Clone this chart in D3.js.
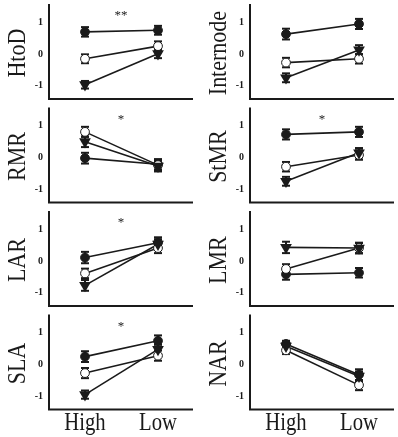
<!DOCTYPE html>
<head>
  <meta charset="utf-8" />
  <script src="https://d3js.org/d3.v7.min.js"></script>
  <style>
    body { margin: 0; background: #fff; }
    svg { filter: grayscale(100%); }
  </style>
</head>
<body>
  <script>
    // trait panels, left to right then top to bottom
    var panels = ["HtoD", "Internode", "RMR", "StMR", "LAR", "LMR", "SLA", "NAR"];
    var stars = ["**", "", "*", "*", "*", "", "*", ""];
    var levels = ["High", "Low"];
    var yTicks = [-1, 0, 1];

    // filled circle series (mean at High, Low) and its error
    var filledVals = [[0.67, 0.72], [0.6, 0.92], [-0.05, -0.24], [0.7, 0.78], [0.08, 0.55], [-0.45, -0.4], [0.22, 0.72], [0.62, -0.35]];
    var filledErr  = [[0.15, 0.14], [0.17, 0.16], [0.17, 0.16], [0.16, 0.16], [0.18, 0.17], [0.17, 0.15], [0.17, 0.17], [0.1, 0.17]];
    // open circle series
    var openVals = [[-0.18, 0.22], [-0.3, -0.18], [0.78, -0.27], [-0.32, 0.05], [-0.42, 0.38], [-0.28, 0.38], [-0.3, 0.25], [0.42, -0.68]];
    var openErr  = [[0.14, 0.15], [0.15, 0.15], [0.16, 0.17], [0.15, 0.15], [0.15, 0.16], [0.15, 0.16], [0.16, 0.16], [0.12, 0.16]];
    // filled down-triangle series
    var triVals = [[-1.0, -0.02], [-0.78, 0.1], [0.47, -0.3], [-0.78, 0.12], [-0.8, 0.5], [0.4, 0.38], [-0.98, 0.45], [0.55, -0.4]];
    var triErr  = [[0.12, 0.14], [0.14, 0.15], [0.17, 0.17], [0.14, 0.15], [0.17, 0.16], [0.18, 0.17], [0.13, 0.16], [0.12, 0.15]];

    var serif = "'Times New Roman', 'Liberation Serif', Times, serif";
    var ink = "#1a1a1a";

    var width = 398, height = 437;
    var svg = d3.select("body").append("svg")
      .attr("width", width)
      .attr("height", height)
      .attr("font-family", serif);

    var panelH = 95, rowStep = 103.5, colStep = 201;

    var y = d3.scaleLinear().domain([-1.45, 1.55]).range([panelH, 0]);
    var x = d3.scalePoint().domain(levels).range([36, 109]);
    var axisLen = 144;

    var series = [
      { vals: filledVals, err: filledErr, shape: "circle", fill: ink },
      { vals: openVals, err: openErr, shape: "circle", fill: "#fff" },
      { vals: triVals, err: triErr, shape: "tri", fill: ink }
    ];

    panels.forEach(function (name, i) {
      var col = i % 2, row = Math.floor(i / 2);
      var g = svg.append("g")
        .attr("transform", "translate(" + (49 + col * colStep) + "," + (4 + row * rowStep) + ")");

      // axes
      g.append("line").attr("x1", 0).attr("x2", 0).attr("y1", 0).attr("y2", panelH)
        .attr("stroke", ink).attr("stroke-width", 2);
      g.append("line").attr("x1", -1).attr("x2", axisLen).attr("y1", panelH).attr("y2", panelH)
        .attr("stroke", ink).attr("stroke-width", 2);

      g.selectAll(".tick").data(yTicks).join("text")
        .attr("class", "tick")
        .attr("x", -6)
        .attr("y", function (d) { return y(d) + 3.5; })
        .attr("text-anchor", "end")
        .attr("font-family", serif)
        .attr("font-size", 10)
        .attr("font-weight", "bold")
        .attr("fill", ink)
        .text(function (d) { return d; });

      // trait label
      g.append("text")
        .attr("transform", "translate(-24," + y(0) + ") rotate(-90) scale(1,1.15)")
        .attr("text-anchor", "middle")
        .attr("font-family", serif)
        .attr("font-size", 22)
        .attr("fill", ink)
        .text(name);

      if (stars[i]) {
        g.append("text")
          .attr("x", 72).attr("y", 15)
          .attr("text-anchor", "middle")
          .attr("font-family", serif)
          .attr("font-size", 13)
          .attr("fill", ink)
          .text(stars[i]);
      }

      var line = d3.line()
        .x(function (d, k) { return x(levels[k]); })
        .y(function (d) { return y(d); });

      series.forEach(function (s) {
        g.append("path").datum(s.vals[i])
          .attr("d", line)
          .attr("fill", "none")
          .attr("stroke", ink)
          .attr("stroke-width", 1.6);
      });

      series.forEach(function (s) {
        var pts = levels.map(function (lv, k) { return { lv: lv, v: s.vals[i][k], e: s.err[i][k] }; });
        var eb = g.append("g").selectAll("g").data(pts).join("g");
        eb.append("line")
          .attr("x1", function (d) { return x(d.lv); }).attr("x2", function (d) { return x(d.lv); })
          .attr("y1", function (d) { return y(d.v - d.e); }).attr("y2", function (d) { return y(d.v + d.e); })
          .attr("stroke", ink).attr("stroke-width", 2);
        [-1, 1].forEach(function (sgn) {
          eb.append("line")
            .attr("x1", function (d) { return x(d.lv) - 4; }).attr("x2", function (d) { return x(d.lv) + 4; })
            .attr("y1", function (d) { return y(d.v + sgn * d.e); }).attr("y2", function (d) { return y(d.v + sgn * d.e); })
            .attr("stroke", ink).attr("stroke-width", 2);
        });
      });

      series.forEach(function (s) {
        var pts = levels.map(function (lv, k) { return { lv: lv, v: s.vals[i][k] }; });
        if (s.shape === "circle") {
          g.append("g").selectAll("circle").data(pts).join("circle")
            .attr("cx", function (d) { return x(d.lv); })
            .attr("cy", function (d) { return y(d.v); })
            .attr("r", 4.4)
            .attr("fill", s.fill)
            .attr("stroke", ink).attr("stroke-width", 1);
        } else {
          g.append("g").selectAll("path").data(pts).join("path")
            .attr("d", d3.symbol().type(d3.symbolTriangle).size(60))
            .attr("transform", function (d) { return "translate(" + x(d.lv) + "," + y(d.v) + ") rotate(180)"; })
            .attr("fill", s.fill);
        }
      });

      // category labels under bottom row
      if (row === 3) {
        svg.append("g").selectAll("text").data(levels).join("text")
          .attr("transform", function (d) { return "translate(" + (49 + col * colStep + x(d)) + ",430) scale(0.9,1.1)"; })
          .attr("text-anchor", "middle")
          .attr("font-family", serif)
          .attr("font-size", 23)
          .attr("fill", ink)
          .text(function (d) { return d; });
      }
    });
  </script>
</body>
